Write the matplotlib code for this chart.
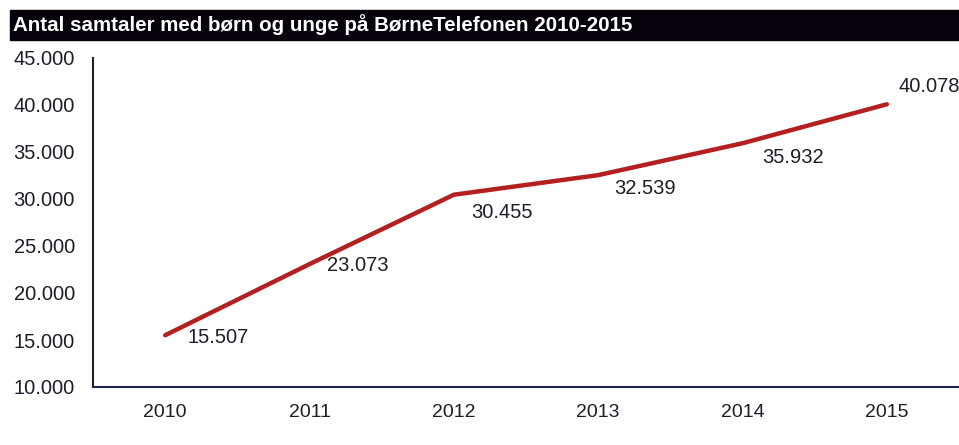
import matplotlib.pyplot as plt
from matplotlib.patches import Rectangle

# data
years = ['2010', '2011', '2012', '2013', '2014', '2015']
calls = [15507, 23073, 30455, 32539, 35932, 40078]
# label offsets (pixels) from each point
label_dx = [22, 17, 17, 16, 20, 12]
label_dy = [-2, -1, -18, -13, -14, 18]

title = 'Antal samtaler med børn og unge på BørneTelefonen 2010-2015'

plt.rcParams['font.family'] = ['Liberation Sans', 'DejaVu Sans']
txt_color = '#1e1e2a'

def fmt(v):
    return f'{v:,}'.replace(',', '.')

fig = plt.figure(figsize=(9.59, 4.45), dpi=100)
fig.patch.set_facecolor('white')

# black title bar
fig.patches.append(Rectangle((10 / 959, 1 - 40 / 445), 1, 30 / 445,
                             transform=fig.transFigure, color='#08020c', zorder=0))
fig.text(13 / 959, 1 - 25 / 445, title, color='white', fontsize=14.8,
         fontweight='bold', va='center', ha='left')

ax = fig.add_axes([93 / 959, 58 / 445, 1 - 93 / 959, (387 - 58) / 445])
x = list(range(len(years)))
ax.plot(x, calls, color='#b3201f', lw=3.2, solid_capstyle='round')

for i, v in enumerate(calls):
    ax.annotate(fmt(v), (x[i], v), xytext=(label_dx[i], label_dy[i]),
                textcoords='offset pixels', ha='left', va='center',
                fontsize=14.5, color=txt_color, annotation_clip=False)

ax.set_xlim(-0.5, 5.5)
ax.set_ylim(10000, 45000)
ax.set_yticks(range(10000, 45001, 5000))
ax.set_yticklabels([fmt(t) for t in range(10000, 45001, 5000)],
                   fontsize=14.5, color=txt_color)
ax.set_xticks(x)
ax.set_xticklabels(years, fontsize=14, color=txt_color,
                   family=['Liberation Sans Narrow', 'Liberation Sans'])
ax.tick_params(axis='y', length=0, pad=13)
ax.tick_params(axis='x', length=0, pad=12)

for s in ['top', 'right']:
    ax.spines[s].set_visible(False)
ax.spines['left'].set_color('#222222')
ax.spines['left'].set_linewidth(1.5)
ax.spines['bottom'].set_color('#1c2450')
ax.spines['bottom'].set_linewidth(1.5)

fig.savefig('out.png', dpi=100)
